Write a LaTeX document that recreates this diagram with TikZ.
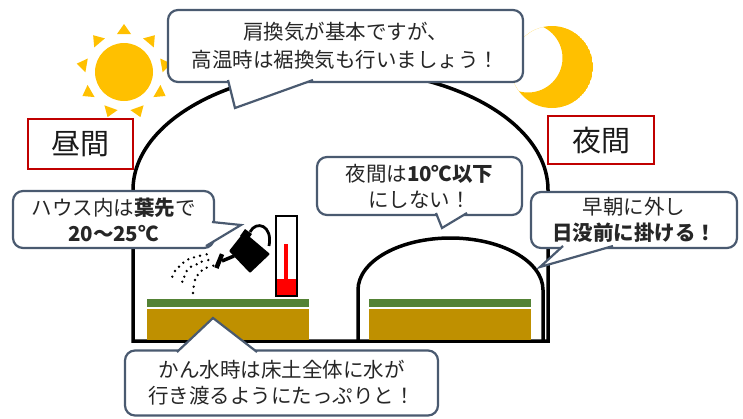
\documentclass[tikz,border=0pt]{standalone}
\usepackage{fontspec}
\newfontfamily\jp{Noto Sans CJK JP}
\definecolor{sunyellow}{HTML}{FFC000}
\definecolor{edgeblue}{HTML}{4A5A70}
\definecolor{tagred}{HTML}{C00000}
\definecolor{leafgreen}{HTML}{548235}
\definecolor{soilbrown}{HTML}{BF9000}
\newcommand{\txtcol}{black!85}

\begin{document}
\begin{tikzpicture}[x=1pt, y=-1pt,
    bubble/.style={draw=edgeblue, line width=2.2pt, fill=white, rounded corners=10pt,
      inner sep=0pt, align=center, text=\txtcol, font=\jp\fontsize{20.5}{26}\selectfont},
    tail/.style={draw=edgeblue, line width=2.2pt},
    tag/.style={draw=tagred, line width=2.5pt, inner sep=0pt, text=black!90,
      font=\jp\fontsize{29}{32}\selectfont},
    wall/.style={line width=3.5pt}]

    \useasboundingbox (0,0) rectangle (743,418);

    % sun
    \fill[sunyellow] (124,72) circle (29pt);
    \begin{scope}[shift={(124,72)}]
      \foreach \a in {10,50,...,330}
        \fill[sunyellow, rotate=\a] (38,-7) -- (48,0) -- (38,7) -- cycle;
    \end{scope}

    % moon
    \begin{scope}
      \clip (552,67) circle (41pt);
      \fill[sunyellow, even odd rule] (552,67) circle (41pt) (528,58) circle (34.5pt);
    \end{scope}

    % greenhouse and inner tunnel
    \draw[wall] (133,190) arc[start angle=180, end angle=0, x radius=207.5pt, y radius=120pt]
      -- (548,341) -- (133,341) -- cycle;
    \draw[wall] (358,341) -- (358,290)
      arc[start angle=180, end angle=0, x radius=92.5pt, y radius=52pt] -- (543,341);

    % beds
    \fill[leafgreen] (147,299) rectangle (309,307);
    \fill[soilbrown] (147,308.5) rectangle (309,339.5);
    \fill[leafgreen] (369,299) rectangle (531,307);
    \fill[soilbrown] (369,308.5) rectangle (531,339.5);

    % thermometer
    \fill[red] (277,279) rectangle (296,295);
    \fill[red] (284,244) rectangle (288,280);
    \draw[line width=2pt] (276,216) rectangle (297,296);

    % watering can
    \fill[rounded corners=1pt] (229,251) -- (244,232) -- (270,254) -- (250,273) -- cycle;
    \fill (240,236) -- (245,229) -- (252,234) -- (247,241) -- cycle;
    \draw[line width=2.8pt] (250,232) .. controls (256,220) and (273,225) .. (269,246);
    \draw[line width=3.5pt] (234,256) -- (222,261);
    \fill[rotate around={-22:(219,261)}] (217,253.5) rectangle (221.5,268.5);
    \foreach \p in {(206.7,254.3),(200,255.7),(194,257.3),(188.3,259.3),(183.3,262.7),
        (179,266.7),(175,271),(172.3,276.7),
        (208.3,260),(201.7,261.7),(196.7,264.3),(191,266.7),(186.7,271),(184.3,276.7),(182.3,281.7),
        (213.3,265.7),(206.7,267.7),(201.7,270.7),(197.7,275),(195,280),(193.7,286.7),(193,293)}
      \fill \p circle (1.3pt);

    % day / night labels
    \node[tag, minimum width=105pt, minimum height=50pt] (day) at (80.5,144) {昼間};
    \node[tag, minimum width=106pt, minimum height=48pt] (night) at (601,140) {夜間};

    % callouts
    \node[bubble, minimum width=355pt, minimum height=72pt] (vent) at (345.5,46)
      {肩換気が基本ですが、\\[2pt]高温時は裾換気も行いましょう！};
    \coordinate (vent tip) at (235,108);
    \fill[white] (228,80) -- (vent tip) -- (313,80) -- cycle;
    \draw[tail] (228,80) -- (vent tip) -- (313,80);

    \node[bubble, minimum width=201pt, minimum height=57pt] (temp) at (113.5,219.5)
      {ハウス内は{\bfseries 葉先}で\\{\bfseries 20～25℃}};
    \coordinate (temp tip) at (241,225);
    \fill[white] (212,222) -- (temp tip) -- (206,246) -- cycle;
    \draw[tail] (212,222) -- (temp tip) -- (206,246);

    \node[bubble, minimum width=205pt, minimum height=58pt] (low) at (419.5,186)
      {夜間は{\bfseries 10℃以下}\\にしない！};
    \coordinate (low tip) at (442,228);
    \fill[white] (436,213) -- (low tip) -- (467,213) -- cycle;
    \draw[tail] (436,213) -- (low tip) -- (467,213);

    \node[bubble, minimum width=206pt, minimum height=56pt] (cover) at (634,220)
      {早朝に外し\\{\bfseries 日没前に掛ける！}};
    \coordinate (cover tip) at (540,267);
    \fill[white] (563,246) -- (cover tip) -- (613,246) -- cycle;
    \draw[tail] (563,246) -- (cover tip) -- (613,246);

    \node[bubble, minimum width=313pt, minimum height=65pt] (water) at (281.5,383)
      {かん水時は床土全体に水が\\行き渡るようにたっぷりと！};
    \coordinate (water tip) at (213,318);
    \fill[white] (177,352) -- (water tip) -- (257,352) -- cycle;
    \draw[tail] (177,352) -- (water tip) -- (257,352);

\end{tikzpicture}
\end{document}
